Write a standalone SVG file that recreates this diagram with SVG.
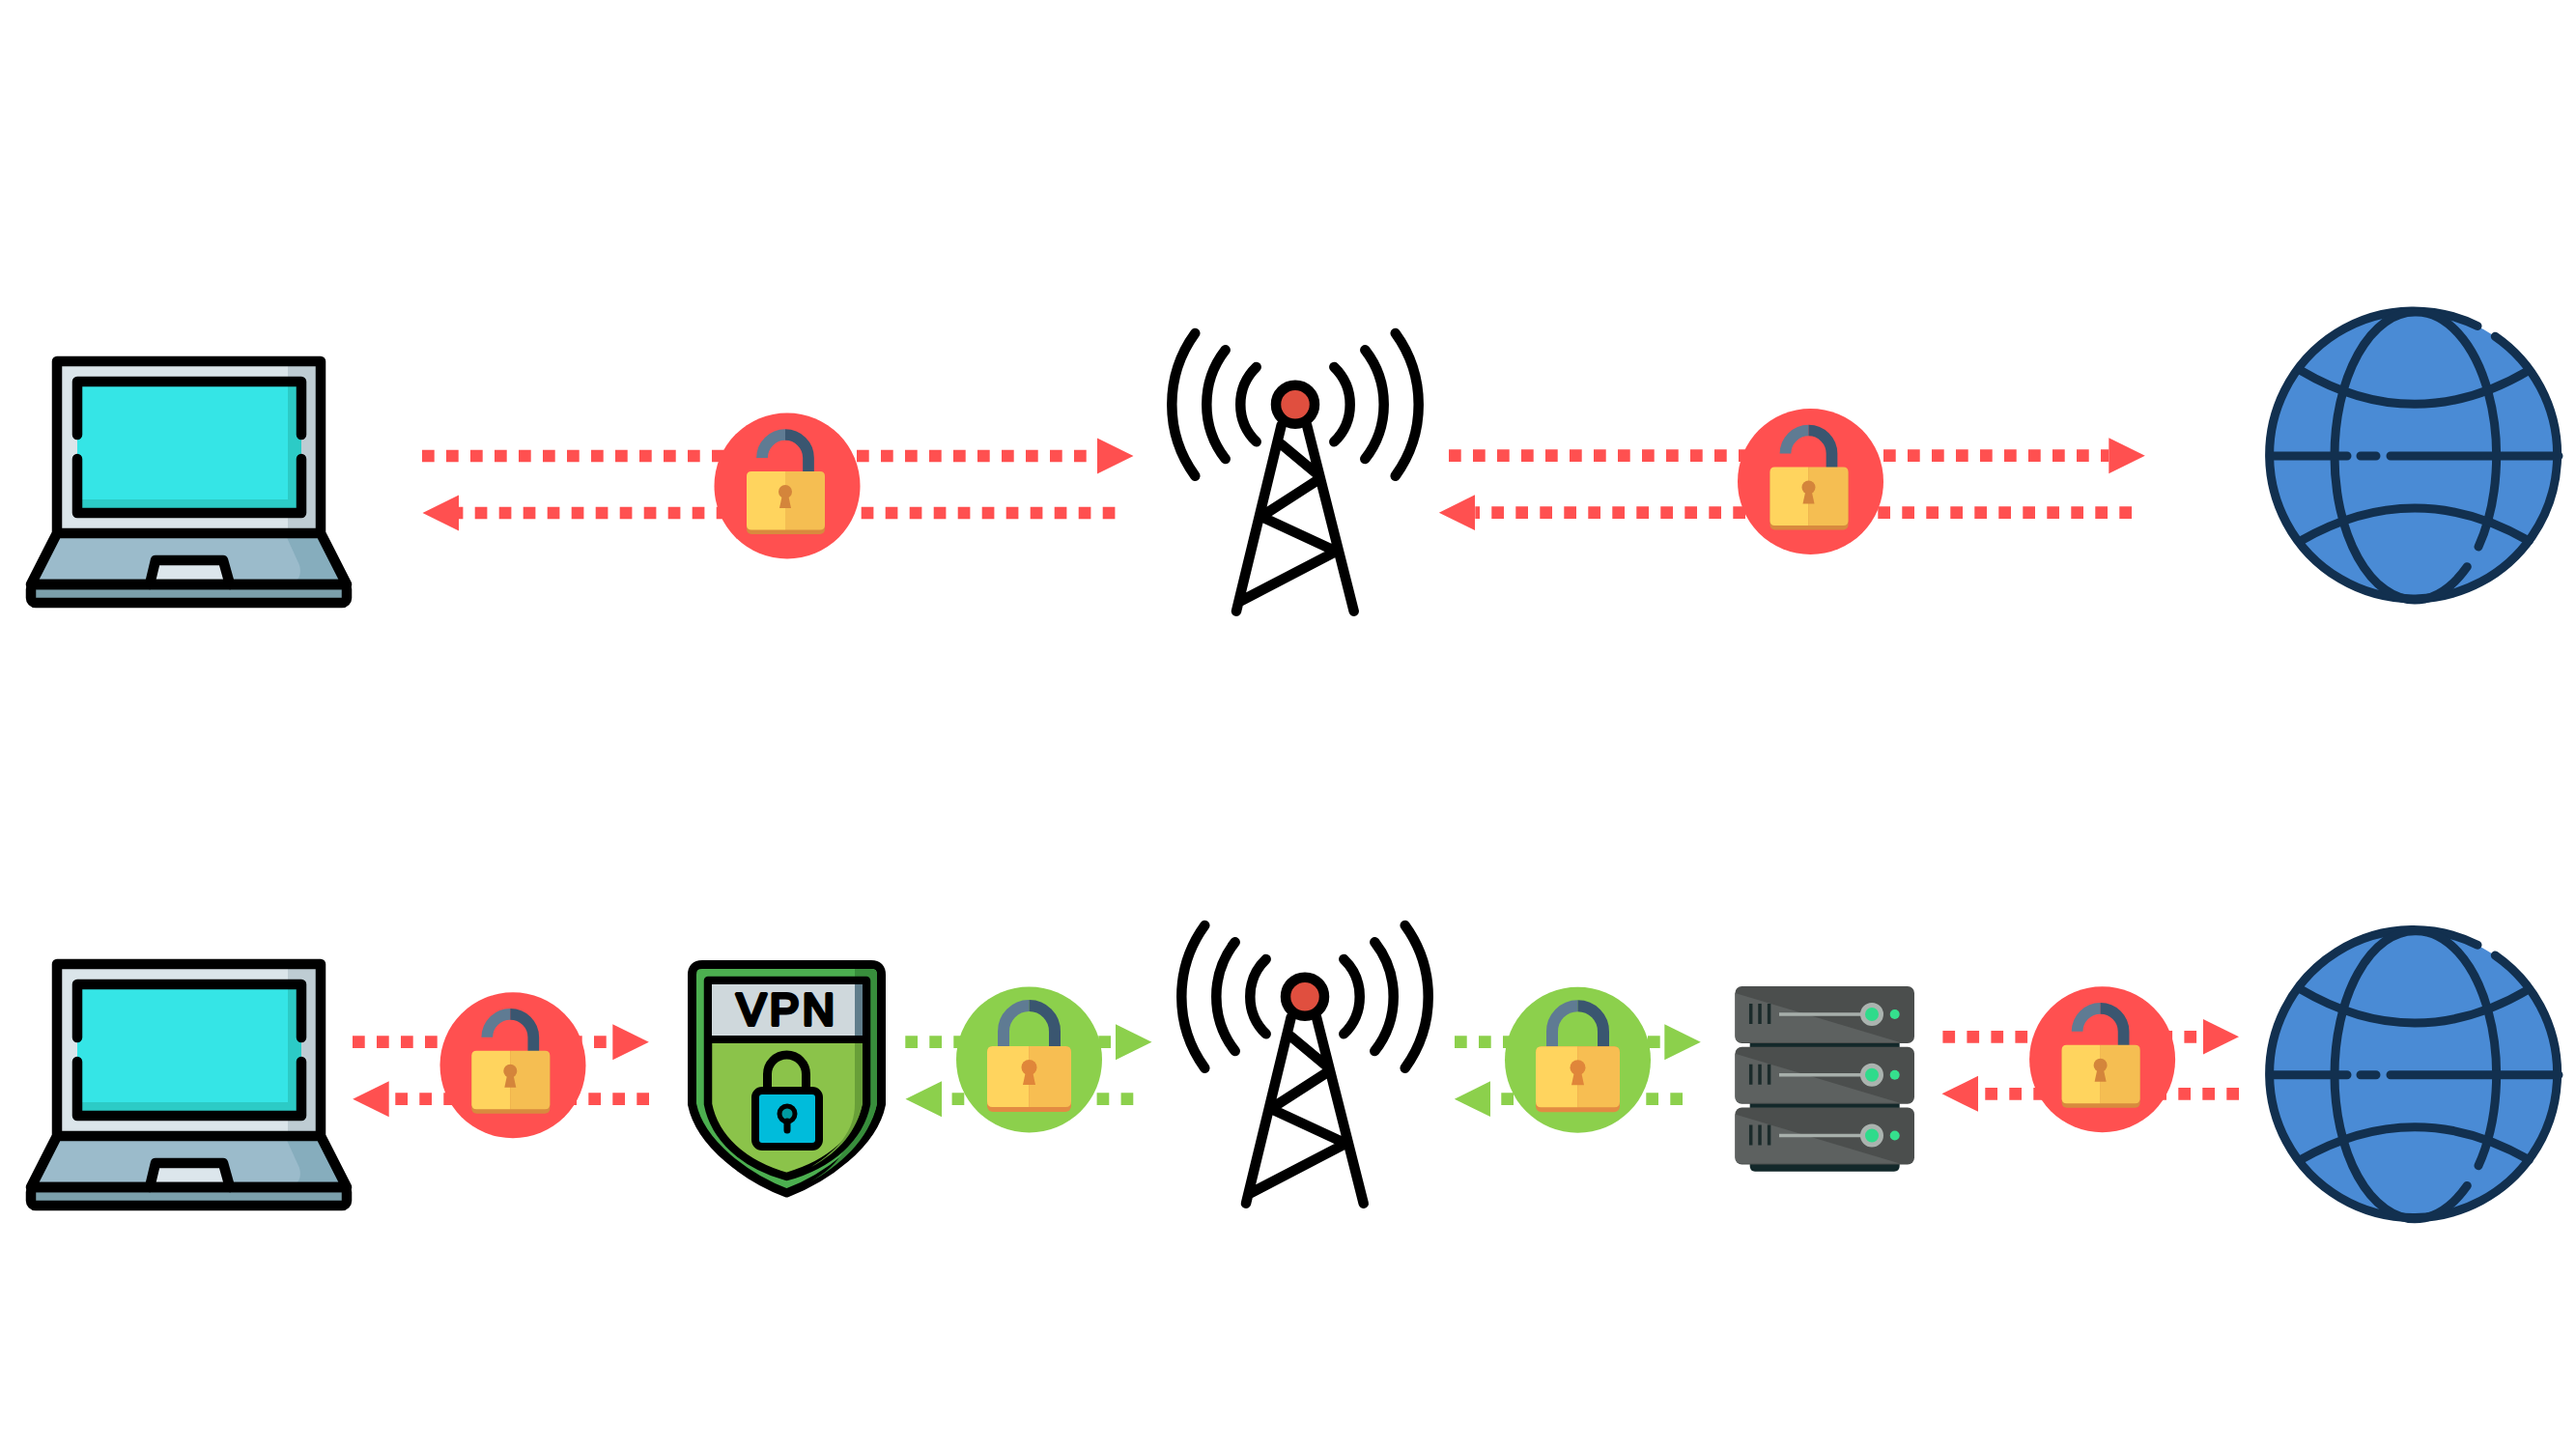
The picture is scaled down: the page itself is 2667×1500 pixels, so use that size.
<svg xmlns="http://www.w3.org/2000/svg" width="2667" height="1500" viewBox="0 0 2667 1500">
<style>
.red{stroke:#FF5050}.grn{stroke:#8CD04C}
.dash{stroke-width:12.7;stroke-dasharray:12.7 12.3;fill:none}
.k{fill:none;stroke:#000;stroke-width:10.5;stroke-linecap:round;stroke-linejoin:round}
.g{fill:none;stroke:#12304F;stroke-width:9;stroke-linecap:round;stroke-linejoin:round}
.t{fill:none;stroke:#000;stroke-width:10.5;stroke-linecap:round;stroke-linejoin:round}
.vent{stroke:#1B2B2B;stroke-width:3.5}
</style>
<defs>
<marker id="ar" markerUnits="userSpaceOnUse" markerWidth="40" markerHeight="38" refX="0" refY="19" orient="auto"><path d="M0,.5L37.5,19L0,37.5Z" fill="#FF5050"/></marker>
<marker id="ag" markerUnits="userSpaceOnUse" markerWidth="40" markerHeight="38" refX="0" refY="19" orient="auto"><path d="M0,.5L37.5,19L0,37.5Z" fill="#8CD04C"/></marker>
<g id="laptop">
<rect x="59" y="374" width="273" height="178" fill="#DBE5EA"/>
<rect x="298" y="374" width="34" height="178" fill="#BECCD3"/>
<rect x="80" y="395" width="232" height="136" fill="#35E5E6"/>
<path d="M298,395H312V531H80V517H298Z" fill="#2CCBC6"/>
<path d="M59,552H332L359,605H32Z" fill="#9BBBCB"/>
<path d="M295,552H332L359,605H300Q314,600 310,585Z" fill="#86ADBD"/>
<rect x="32" y="605" width="327" height="19" fill="#7BA0AC"/>
<path d="M156,605L162,580H232L238,605Z" fill="#DCE6EC"/>
<path class="k" d="M59,552V374H332V552M59,552H332M59,552L32,605M332,552L359,605M32,605H359"/>
<rect class="k" x="32" y="605" width="327" height="19" rx="5"/>
<path class="k" d="M80,450V395H312V450M80,475V531H312V475"/>
<path class="k" d="M155,605L161,580H231L238,605"/>
</g>
<g id="tower">
<circle cx="1341" cy="418.7" r="20" fill="#E04F3F" stroke="#000" stroke-width="10.5"/>
<path class="t" d="M1326.7,440L1280,632.7M1353,440L1401.7,632.7M1326.7,460L1362.7,490M1362.7,498L1310,532M1310,536.7L1381.7,570M1381.7,571.7L1283,623"/>
<path class="t" d="M1300.7,380A53.700,53.700 0 0 0 1300.7,457.300M1268.7,362.300A91.500,91.500 0 0 0 1268.7,475M1237.3,345A125.600,125.600 0 0 0 1237.3,492.700M1381.3,380A53.700,53.700 0 0 1 1381.3,457.300M1413.3,362.300A91.500,91.500 0 0 1 1413.3,475M1444.7,345A125.600,125.600 0 0 1 1444.7,492.700"/>
</g>
<g id="globe">
<circle cx="2500" cy="472" r="149" fill="#4A8BD5"/>
<path class="g" d="M2583.300,348.300A149,149 0 1 1 2565,337.500"/>
<path class="g" d="M2554.300,586.700Q2530,621 2500,621A83,149 0 0 1 2500,323A83,149 0 0 1 2566,566"/>
<path class="g" d="M2381.700,383.300Q2500,453.300 2618.300,383.300M2381.700,560Q2500,492 2618.300,560M2351,472H2430M2444,472H2460M2475,472H2649"/>
</g>
<g id="open">
<path d="M-24,-30V-29A24,24 0 0 1 0,-53" fill="none" stroke="#5F7B93" stroke-width="11.700"/>
<path d="M0,-53A24,24 0 0 1 24,-29V-14" fill="none" stroke="#3A5670" stroke-width="11.700"/>
</g>
<g id="body1">
<rect x="-40" y="-14" width="81" height="64" rx="5" fill="#D88A3E"/>
<path d="M-35,-15H0V45.500H-35Q-40,45.500 -40,40.500V-10Q-40,-15 -35,-15Z" fill="#FFD45E"/>
<path d="M0,-15H36Q41,-15 41,-10V40.500Q41,45.500 36,45.500H0Z" fill="#F5BE52"/>
<circle cx="0" cy="6" r="7" fill="#D4853B"/>
<path d="M-3,9H3L6,23H-6Z" fill="#D4853B"/>
</g>
<g id="closed">
<path d="M-26.500,-12V-29A26.500,26.500 0 0 1 0,-56" fill="none" stroke="#5F7B93" stroke-width="12"/>
<path d="M0,-56A26.500,26.500 0 0 1 26.500,-29V-12" fill="none" stroke="#3A5670" stroke-width="12"/>
<rect x="-43.500" y="-14" width="87" height="68" rx="6" fill="#E28B42"/>
<path d="M-38,-14H0V49H-38Q-43.500,49 -43.500,43V-8Q-43.500,-14 -38,-14Z" fill="#FFD45E"/>
<path d="M0,-14H38Q43.500,-14 43.500,-8V43Q43.500,49 38,49H0Z" fill="#F7BE52"/>
<circle cx="0" cy="8" r="8" fill="#E0863A"/>
<path d="M-3.500,12H3.500L6.500,26H-6.500Z" fill="#E0863A"/>
</g>
<g id="unit">
<rect width="185.600" height="59" x="1796.400" y="1021" rx="7" fill="#4B4E4D"/>
<path d="M1796.400,1028L1967,1079H1803Q1796.400,1079 1796.400,1072Z" fill="#5D6160"/>
<path class="vent" d="M1812.700,1039V1060M1822,1039V1060M1831.600,1039V1060"/>
<path d="M1842,1050H1930" stroke="#A7AFAB" stroke-width="3.500"/>
<circle cx="1938" cy="1050" r="9.500" fill="#2FDB8B" stroke="#ABB3AF" stroke-width="5"/>
<circle cx="1961.700" cy="1050" r="5" fill="#35E08D"/>
</g>
</defs>
<rect width="2667" height="1500" fill="#fff"/>
<g id="connectors">
<line class="dash red" x1="437" y1="472" x2="1136" y2="472" marker-end="url(#ar)"/>
<line class="dash red" x1="1154.400" y1="531" x2="475" y2="531" marker-end="url(#ar)"/>
<line class="dash red" x1="1500" y1="471.700" x2="2183.300" y2="471.700" marker-end="url(#ar)"/>
<line class="dash red" x1="2207" y1="530.700" x2="1527.300" y2="530.700" marker-end="url(#ar)"/>
<line class="dash red" x1="365" y1="1078.700" x2="634.300" y2="1078.700" marker-end="url(#ar)"/>
<line class="dash red" x1="672" y1="1137.700" x2="402.700" y2="1137.700" marker-end="url(#ar)"/>
<line class="dash grn" x1="937.300" y1="1078.700" x2="1155" y2="1078.700" marker-end="url(#ag)"/>
<line class="dash grn" x1="1173.300" y1="1137.700" x2="975" y2="1137.700" marker-end="url(#ag)"/>
<line class="dash grn" x1="1506" y1="1078.700" x2="1723.300" y2="1078.700" marker-end="url(#ag)"/>
<line class="dash grn" x1="1742" y1="1137.700" x2="1543.300" y2="1137.700" marker-end="url(#ag)"/>
<line class="dash red" x1="2011.400" y1="1073.300" x2="2280.500" y2="1073.300" marker-end="url(#ar)"/>
<line class="dash red" x1="2318" y1="1132.300" x2="2048" y2="1132.300" marker-end="url(#ar)"/>
</g>
<g id="laptop-top"><use href="#laptop"/></g>
<g id="tower-top"><use href="#tower"/></g>
<g id="globe-top"><use href="#globe"/></g>
<g id="laptop-bottom"><use href="#laptop" y="624"/></g>
<g id="tower-bottom"><use href="#tower" x="10" y="613"/></g>
<g id="globe-bottom"><use href="#globe" y="640.700"/></g>
<g id="lock-1"><circle cx="815" cy="503" r="75.500" fill="#FF5050"/><use href="#open" x="813" y="503"/><use href="#body1" x="813" y="503"/></g>
<g id="lock-2"><circle cx="1874.500" cy="498.500" r="75.500" fill="#FF5050"/><use href="#open" x="1872.500" y="498.500"/><use href="#body1" x="1872.500" y="498.500"/></g>
<g id="lock-3"><circle cx="531" cy="1102.800" r="75.500" fill="#FF5050"/><use href="#open" x="528.300" y="1102.800"/><use href="#body1" x="528.300" y="1102.800"/></g>
<g id="lock-4"><circle cx="1065.500" cy="1097" r="75.500" fill="#8CD04C"/><use href="#closed" x="1065.500" y="1097"/></g>
<g id="lock-5"><circle cx="1633.500" cy="1097.200" r="75.500" fill="#8CD04C"/><use href="#closed" x="1633.500" y="1097.200"/></g>
<g id="lock-6"><circle cx="2176.600" cy="1096.800" r="75.500" fill="#FF5050"/><use href="#open" x="2174.600" y="1096.800"/><use href="#body1" x="2174.600" y="1096.800"/></g>
<g id="vpn">
<path d="M727,998.500H902Q912.500,998.500 912.500,1009V1143C904,1185 854,1220 814.500,1235C775,1220 725,1185 716.500,1143V1009Q716.500,998.500 727,998.500Z" fill="#4CAF50" stroke="#000" stroke-width="9" stroke-linejoin="round"/>
<path d="M885,1003H902Q908,1003 908,1009V1143C900,1180 868,1208 838,1224C872,1205 885,1180 885,1143Z" fill="#388E3C"/>
<path d="M733,1015H897V1143C890,1178 860,1205 814.500,1218C769,1205 740,1178 733,1143Z" fill="#8BC34A" stroke="#000" stroke-width="8.500" stroke-linejoin="round"/>
<path d="M885,1080H893V1143C887,1170 870,1192 840,1208C868,1190 885,1170 885,1143Z" fill="#689F38"/>
<rect x="737" y="1019" width="156" height="53" fill="#CFD8DC"/>
<rect x="885" y="1019" width="8" height="53" fill="#607D8B"/>
<path d="M737,1076H893" stroke="#000" stroke-width="8"/>
<text x="815" y="1061" text-anchor="middle" font-family="Liberation Sans, Arial, sans-serif" font-size="46" letter-spacing="3.500" stroke="#000" stroke-width="4" stroke-linejoin="round">VPN</text>
<path d="M794.500,1125V1112A20,20 0 0 1 834.500,1112V1125" fill="none" stroke="#000" stroke-width="9"/>
<rect x="782" y="1129" width="66" height="58" rx="7" fill="#00BCDB" stroke="#000" stroke-width="8"/>
<circle cx="815" cy="1153" r="8" fill="#009AA0" stroke="#000" stroke-width="5"/>
<path d="M815,1161V1170" stroke="#000" stroke-width="7" stroke-linecap="round"/>
</g>
<g id="server">
<path d="M1811.700,1078H1966.700V1207Q1966.700,1212.700 1961,1212.700H1817Q1811.700,1212.700 1811.700,1207Z" fill="#13282A"/>
<use href="#unit"/><use href="#unit" y="62.700"/><use href="#unit" y="125.500"/>
</g>
</svg>
